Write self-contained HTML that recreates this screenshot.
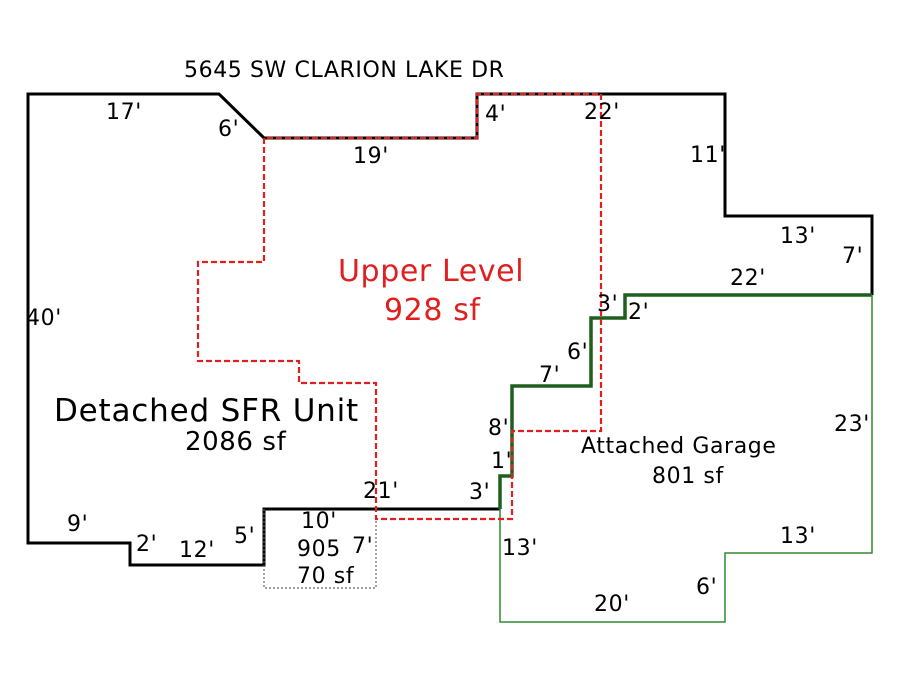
<!DOCTYPE html>
<html><head><meta charset="utf-8"><style>
html,body{margin:0;padding:0;background:#fff;}
text{font-family:"DejaVu Sans","Liberation Sans",sans-serif;font-size:22px;letter-spacing:0.6px;fill:#000;}
</style></head><body>
<svg width="900" height="675" xmlns="http://www.w3.org/2000/svg">
<polyline points="500,509 264,509 264,565 130,565 130,543 28,543 28,94 219,94 264,138 477,138 477,94 725,94 725,216 872,216 872,295" fill="none" stroke="#000" stroke-width="3"/>
<polyline points="872,295 625,295 625,318 591,318 591,386 512,386 512,476 500,476 500,509" fill="none" stroke="#1e5e1e" stroke-width="3.5"/>
<polyline points="500,509 500,622 725,622 725,553 872,553 872,295" fill="none" stroke="#2e8b2e" stroke-width="1.5"/>
<polyline points="264,509 264,588 376,588 376,519" fill="none" stroke="#666" stroke-width="1.2" stroke-dasharray="2,2"/>
<polyline points="264,138 264,262 198,262 198,361 299,361 299,383 376,383 376,519 512,519 512,431 601,431 601,94 477,94 477,138 264,138" fill="none" stroke="#e02020" stroke-width="2.2" stroke-dasharray="6,3"/>
<text x="184" y="77">5645 SW CLARION LAKE DR</text>
<text x="106" y="119">17'</text>
<text x="218" y="136">6'</text>
<text x="353" y="163">19'</text>
<text x="485" y="121">4'</text>
<text x="584" y="119">22'</text>
<text x="690" y="162">11'</text>
<text x="780" y="243">13'</text>
<text x="842" y="263">7'</text>
<text x="730" y="285">22'</text>
<text x="597" y="311">3'</text>
<text x="628" y="319">2'</text>
<text x="567" y="359">6'</text>
<text x="539" y="382">7'</text>
<text x="488" y="435">8'</text>
<text x="491" y="468">1'</text>
<text x="469" y="499">3'</text>
<text x="363" y="498">21'</text>
<text x="26" y="325">40'</text>
<text x="67" y="531">9'</text>
<text x="136" y="551">2'</text>
<text x="179" y="557">12'</text>
<text x="234" y="543">5'</text>
<text x="301" y="528">10'</text>
<text x="297" y="556">905</text>
<text x="352" y="553">7'</text>
<text x="297" y="583">70 sf</text>
<text x="502" y="555">13'</text>
<text x="594" y="611">20'</text>
<text x="696" y="594">6'</text>
<text x="780" y="543">13'</text>
<text x="834" y="431">23'</text>
<text x="581" y="453">Attached Garage</text>
<text x="652" y="483">801 sf</text>
<text x="54" y="421" style="font-size:31px;letter-spacing:0.8px">Detached SFR Unit</text>
<text x="185" y="450" style="font-size:26px">2086 sf</text>
<text x="338" y="281" style="font-size:30px;fill:#e02020">Upper Level</text>
<text x="384" y="320" style="font-size:30px;fill:#e02020">928 sf</text>
</svg>
</body></html>
